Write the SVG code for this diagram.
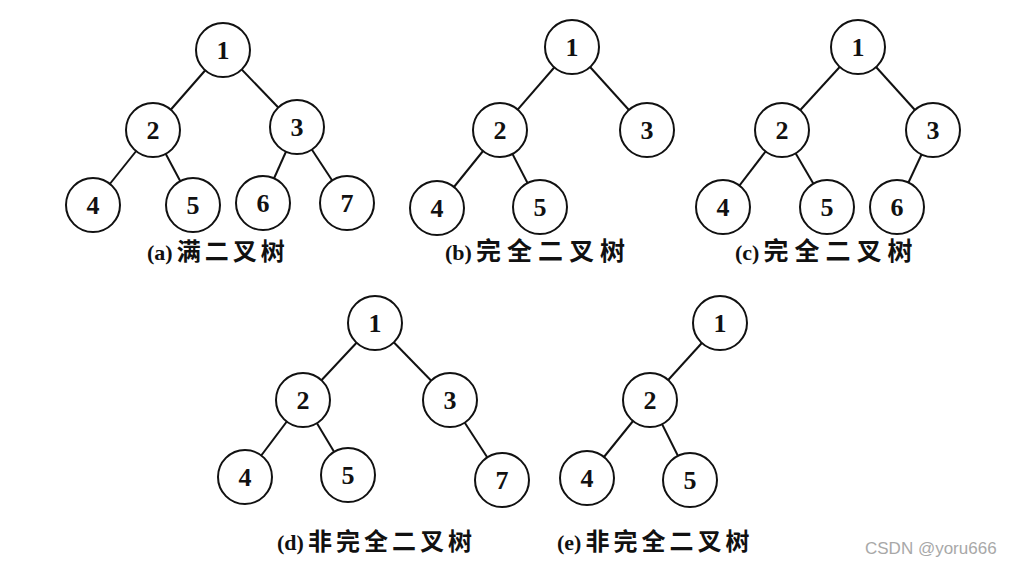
<svg xmlns="http://www.w3.org/2000/svg" width="1010" height="566" viewBox="0 0 1010 566">
<style>
.e{stroke:#111;stroke-width:2}
.n circle{fill:#fff;stroke:#111;stroke-width:2}
.n text{font-family:"Liberation Serif",serif;font-size:26px;font-weight:bold;fill:#111;text-anchor:middle}
.lb{font-family:"Liberation Serif","Noto Sans CJK SC",serif;font-weight:bold;fill:#111}
.lt{font-size:22px}
.c1{font-size:25px;letter-spacing:6px}
.c2{font-size:24px;letter-spacing:4px}
.wm{font-family:"Liberation Sans",sans-serif;font-size:17px;fill:#a8a8a8}
</style>
<rect width="1010" height="566" fill="#fff"/>
<g id="connectors">
<line class="e" x1="223" y1="50" x2="153" y2="130"/>
<line class="e" x1="223" y1="50" x2="297" y2="127"/>
<line class="e" x1="153" y1="130" x2="93" y2="205"/>
<line class="e" x1="153" y1="130" x2="193" y2="205"/>
<line class="e" x1="297" y1="127" x2="263" y2="203"/>
<line class="e" x1="297" y1="127" x2="347" y2="203"/>
<line class="e" x1="572" y1="47" x2="500" y2="130"/>
<line class="e" x1="572" y1="47" x2="647" y2="130"/>
<line class="e" x1="500" y1="130" x2="437" y2="208"/>
<line class="e" x1="500" y1="130" x2="540" y2="207"/>
<line class="e" x1="858" y1="47" x2="782" y2="130"/>
<line class="e" x1="858" y1="47" x2="933" y2="130"/>
<line class="e" x1="782" y1="130" x2="723" y2="207"/>
<line class="e" x1="782" y1="130" x2="827" y2="207"/>
<line class="e" x1="933" y1="130" x2="897" y2="207"/>
<line class="e" x1="375" y1="323" x2="303" y2="400"/>
<line class="e" x1="375" y1="323" x2="450" y2="400"/>
<line class="e" x1="303" y1="400" x2="245" y2="477"/>
<line class="e" x1="303" y1="400" x2="348" y2="475"/>
<line class="e" x1="450" y1="400" x2="502" y2="480"/>
<line class="e" x1="720" y1="323" x2="650" y2="400"/>
<line class="e" x1="650" y1="400" x2="587" y2="478"/>
<line class="e" x1="650" y1="400" x2="690" y2="480"/>
</g>
<g id="tree-a">
<g id="a1" class="n"><circle cx="223" cy="50" r="27"/><text x="223" y="59">1</text></g>
<g id="a2" class="n"><circle cx="153" cy="130" r="27"/><text x="153" y="139">2</text></g>
<g id="a3" class="n"><circle cx="297" cy="127" r="27"/><text x="297" y="136">3</text></g>
<g id="a4" class="n"><circle cx="93" cy="205" r="27"/><text x="93" y="214">4</text></g>
<g id="a5" class="n"><circle cx="193" cy="205" r="27"/><text x="193" y="214">5</text></g>
<g id="a6" class="n"><circle cx="263" cy="203" r="27"/><text x="263" y="212">6</text></g>
<g id="a7" class="n"><circle cx="347" cy="203" r="27"/><text x="347" y="212">7</text></g>
<text id="label-a" class="lb" x="147" y="260"><tspan class="lt">(a)</tspan><tspan class="c2" dx="4">满二叉树</tspan></text>
</g>
<g id="tree-b">
<g id="b1" class="n"><circle cx="572" cy="47" r="27"/><text x="572" y="56">1</text></g>
<g id="b2" class="n"><circle cx="500" cy="130" r="27"/><text x="500" y="139">2</text></g>
<g id="b3" class="n"><circle cx="647" cy="130" r="27"/><text x="647" y="139">3</text></g>
<g id="b4" class="n"><circle cx="437" cy="208" r="27"/><text x="437" y="217">4</text></g>
<g id="b5" class="n"><circle cx="540" cy="207" r="27"/><text x="540" y="216">5</text></g>
<text id="label-b" class="lb" x="445" y="260"><tspan class="lt">(b)</tspan><tspan class="c1" dx="4">完全二叉树</tspan></text>
</g>
<g id="tree-c">
<g id="c1" class="n"><circle cx="858" cy="47" r="27"/><text x="858" y="56">1</text></g>
<g id="c2" class="n"><circle cx="782" cy="130" r="27"/><text x="782" y="139">2</text></g>
<g id="c3" class="n"><circle cx="933" cy="130" r="27"/><text x="933" y="139">3</text></g>
<g id="c4" class="n"><circle cx="723" cy="207" r="27"/><text x="723" y="216">4</text></g>
<g id="c5" class="n"><circle cx="827" cy="207" r="27"/><text x="827" y="216">5</text></g>
<g id="c6" class="n"><circle cx="897" cy="207" r="27"/><text x="897" y="216">6</text></g>
<text id="label-c" class="lb" x="735" y="260"><tspan class="lt">(c)</tspan><tspan class="c1" dx="4">完全二叉树</tspan></text>
</g>
<g id="tree-d">
<g id="d1" class="n"><circle cx="375" cy="323" r="27"/><text x="375" y="332">1</text></g>
<g id="d2" class="n"><circle cx="303" cy="400" r="27"/><text x="303" y="409">2</text></g>
<g id="d3" class="n"><circle cx="450" cy="400" r="27"/><text x="450" y="409">3</text></g>
<g id="d4" class="n"><circle cx="245" cy="477" r="27"/><text x="245" y="486">4</text></g>
<g id="d5" class="n"><circle cx="348" cy="475" r="27"/><text x="348" y="484">5</text></g>
<g id="d7" class="n"><circle cx="502" cy="480" r="27"/><text x="502" y="489">7</text></g>
<text id="label-d" class="lb" x="277" y="550"><tspan class="lt">(d)</tspan><tspan class="c2" dx="4">非完全二叉树</tspan></text>
</g>
<g id="tree-e">
<g id="e1" class="n"><circle cx="720" cy="323" r="27"/><text x="720" y="332">1</text></g>
<g id="e2" class="n"><circle cx="650" cy="400" r="27"/><text x="650" y="409">2</text></g>
<g id="e4" class="n"><circle cx="587" cy="478" r="27"/><text x="587" y="487">4</text></g>
<g id="e5" class="n"><circle cx="690" cy="480" r="27"/><text x="690" y="489">5</text></g>
<text id="label-e" class="lb" x="557" y="550"><tspan class="lt">(e)</tspan><tspan class="c2" dx="4">非完全二叉树</tspan></text>
</g>
<text class="wm" x="865" y="554">CSDN @yoru666</text>
</svg>
